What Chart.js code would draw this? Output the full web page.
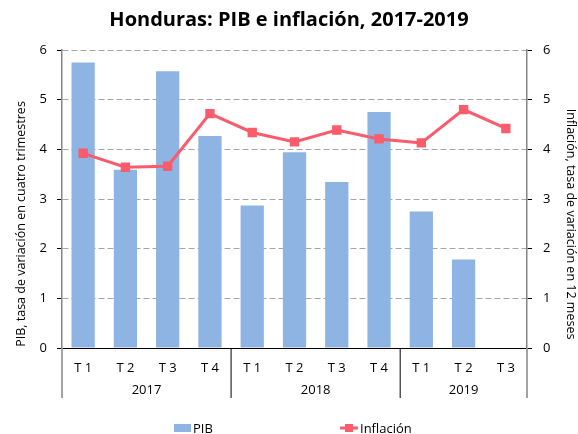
<!DOCTYPE html>
<html>
<head>
<meta charset="utf-8">
<script src="https://cdn.jsdelivr.net/npm/chart.js@4/dist/chart.umd.min.js"></script>
<style>
    html, body { margin: 0; padding: 0; background: #fff; }
    #wrap { width: 578px; height: 434px; }
</style>
</head>
<body>
<div id="wrap"><canvas id="chart" width="578" height="434"></canvas></div>
<script>
const quarters = ['T 1', 'T 2', 'T 3', 'T 4', 'T 1', 'T 2', 'T 3', 'T 4', 'T 1', 'T 2', 'T 3'];
const years = ['2017', '2018', '2019'];
const yearSizes = [4, 4, 3];
const pib = [5.75, 3.59, 5.57, 4.27, 2.87, 3.94, 3.34, 4.75, 2.75, 1.78, null];
const inflacion = [3.92, 3.64, 3.66, 4.72, 4.34, 4.15, 4.39, 4.21, 4.13, 4.80, 4.42];
const leftTitle = 'PIB, tasa de variación en cuatro trimestres';
const rightTitle = 'Inflación, tasa de variación en 12 meses';

const FONT = 'Open Sans';
const BAR_COLOR = '#8DB4E2';
const LINE_COLOR = '#FA5C6C';
const AXIS_COLOR = '#858585';

// years row, group separators, axis titles and the legend
const extras = {
    id: 'extras',
    afterDraw(chart) {
        const ctx = chart.ctx;
        const x = chart.scales.x;
        const area = chart.chartArea;
        const bottom = x.bottom;
        ctx.save();
        ctx.strokeStyle = AXIS_COLOR;
        ctx.lineWidth = 1.5;
        ctx.beginPath();
        ctx.moveTo(area.left, area.bottom);
        ctx.lineTo(area.left, bottom);
        ctx.moveTo(area.right, area.bottom);
        ctx.lineTo(area.right, bottom);
        ctx.stroke();

        ctx.fillStyle = '#000';
        ctx.font = '13px "' + FONT + '"';
        ctx.textAlign = 'center';
        ctx.textBaseline = 'middle';
        let start = 0;
        yearSizes.forEach((n, i) => {
            const a = x.getPixelForValue(start);
            const b = x.getPixelForValue(start + n - 1);
            ctx.fillText(years[i], (a + b) / 2, area.bottom + 42);
            if (i < yearSizes.length - 1) {
                const sep = (x.getPixelForValue(start + n - 1) + x.getPixelForValue(start + n)) / 2;
                ctx.strokeStyle = '#000';
                ctx.lineWidth = 1;
                ctx.beginPath();
                ctx.moveTo(sep, area.bottom);
                ctx.lineTo(sep, bottom);
                ctx.stroke();
            }
            start += n;
        });

        // axis titles, centred on the axis including the category rows
        const mid = (area.top + bottom) / 2;
        ctx.font = '12.5px "' + FONT + '"';
        ctx.save();
        ctx.translate(21, mid);
        ctx.rotate(-Math.PI / 2);
        ctx.fillText(leftTitle, 0, 0);
        ctx.restore();
        ctx.save();
        ctx.translate(571, mid);
        ctx.rotate(Math.PI / 2);
        ctx.fillText(rightTitle, 0, 0);
        ctx.restore();

        // legend
        const ly = 428;
        ctx.font = '13px "' + FONT + '"';
        ctx.fillStyle = BAR_COLOR;
        ctx.fillRect(174, ly - 4, 17, 8);
        ctx.fillStyle = '#000';
        ctx.textAlign = 'left';
        ctx.fillText('PIB', 193, ly + 1);
        ctx.strokeStyle = LINE_COLOR;
        ctx.lineWidth = 3;
        ctx.beginPath();
        ctx.moveTo(340, ly);
        ctx.lineTo(358, ly);
        ctx.stroke();
        ctx.fillStyle = LINE_COLOR;
        ctx.fillRect(345, ly - 4, 8, 8);
        ctx.fillStyle = '#000';
        ctx.fillText('Inflación', 360, ly + 1);
        ctx.restore();
    }
};

new Chart(document.getElementById('chart'), {
    data: {
        labels: quarters,
        datasets: [{
            type: 'line',
            label: 'Inflación',
            data: inflacion,
            yAxisID: 'y2',
            borderColor: LINE_COLOR,
            backgroundColor: LINE_COLOR,
            borderWidth: 3,
            pointStyle: 'rect',
            pointRadius: 4.5,
            pointHoverRadius: 4.5,
            tension: 0,
            order: 0
        }, {
            type: 'bar',
            label: 'PIB',
            data: pib,
            yAxisID: 'y',
            backgroundColor: BAR_COLOR,
            barPercentage: 0.55,
            categoryPercentage: 1,
            order: 1
        }]
    },
    options: {
        responsive: false,
        animation: false,
        layout: { padding: { top: 0, bottom: 36, left: 0, right: 0 } },
        plugins: {
            legend: { display: false },
            tooltip: { enabled: false },
            title: {
                display: true,
                text: 'Honduras: PIB e inflación, 2017-2019',
                color: '#000',
                font: { family: FONT, size: 20, weight: 'bold' },
                padding: { top: 8, bottom: 18 }
            }
        },
        scales: {
            x: {
                offset: true,
                grid: { display: false },
                border: { display: true, color: '#000', width: 1 },
                ticks: { color: '#000', font: { family: FONT, size: 13 }, padding: 4, maxRotation: 0 },
                afterFit(scale) { scale.height = 50; }
            },
            y: {
                position: 'left',
                min: 0,
                max: 6,
                ticks: { stepSize: 1, color: '#000', font: { family: FONT, size: 13 }, padding: 10 },
                grid: {
                    color: ctx => ctx.tick && ctx.tick.value === 0 ? 'rgba(0,0,0,0)' : '#A6A6A6',
                    tickColor: '#000',
                    tickLength: 5,
                    lineWidth: 1
                },
                border: { display: true, color: AXIS_COLOR, width: 1.5, dash: [6, 3] },
                afterFit(scale) { scale.width = 62; }
            },
            y2: {
                position: 'right',
                min: 0,
                max: 6,
                ticks: { stepSize: 1, color: '#000', font: { family: FONT, size: 13 }, padding: 11 },
                grid: { drawOnChartArea: false, tickColor: '#000', tickLength: 5 },
                border: { display: true, color: AXIS_COLOR, width: 1.5 },
                afterFit(scale) { scale.width = 51; }
            }
        }
    },
    plugins: [extras]
});
</script>
</body>
</html>
